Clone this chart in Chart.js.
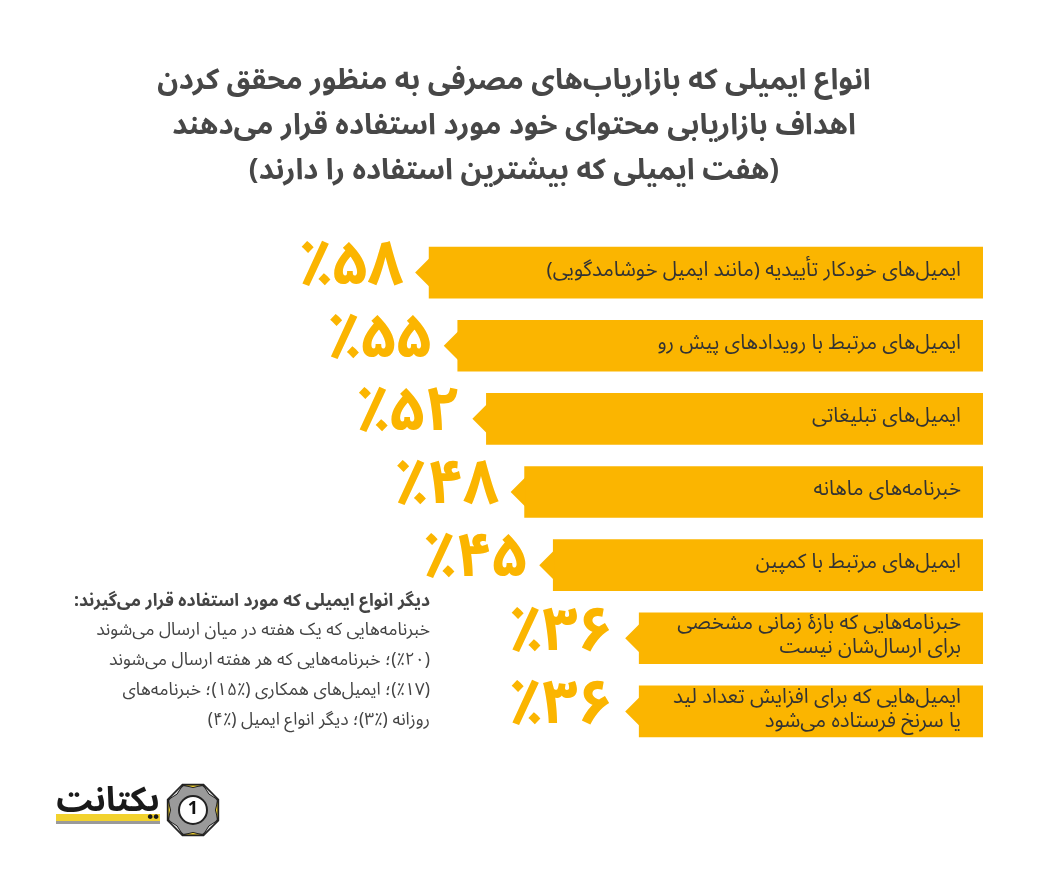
<!DOCTYPE html>
<html>
<head>
<meta charset="utf-8">
<script src="https://cdn.jsdelivr.net/npm/chart.js@4.4.0/dist/chart.umd.min.js"></script>
<style>
  html, body { margin: 0; padding: 0; background: #fff; }
  canvas { display: block; }
</style>
</head>
<body>
<canvas id="emailChart" width="1040" height="880"></canvas>
<script>
// data
const categories = [
    ['ایمیل‌های خودکار تأییدیه (مانند ایمیل خوشامدگویی)'],
    ['ایمیل‌های مرتبط با رویدادهای پیش رو'],
    ['ایمیل‌های تبلیغاتی'],
    ['خبرنامه‌های ماهانه'],
    ['ایمیل‌های مرتبط با کمپین'],
    ['خبرنامه‌هایی که بازهٔ زمانی مشخصی', 'برای ارسال‌شان نیست'],
    ['ایمیل‌هایی که برای افزایش تعداد لید', 'یا سرنخ فرستاده می‌شود']
];
const percents = [58, 55, 52, 48, 45, 36, 36];

const titleLines = [
    'انواع ایمیلی که بازاریاب‌های مصرفی به منظور محقق کردن',
    'اهداف بازاریابی محتوای خود مورد استفاده قرار می‌دهند',
    '(هفت ایمیلی که بیشترین استفاده را دارند)'
];
const noteLines = [
    'دیگر انواع ایمیلی که مورد استفاده قرار می‌گیرند:',
    'خبرنامه‌هایی که یک هفته در میان ارسال می‌شوند',
    '(٪۲۰)؛ خبرنامه‌هایی که هر هفته ارسال می‌شوند',
    '(٪۱۷)؛ ایمیل‌های همکاری (٪۱۵)؛ خبرنامه‌های',
    'روزانه (٪۳)؛ دیگر انواع ایمیل (٪۴)'
];

const YELLOW = '#FBB500';
const FONT = "'Noto Sans Arabic', 'DejaVu Sans', sans-serif";

function faDigits(n) {
    return String(n).replace(/[0-9]/g, d => '۰۱۲۳۴۵۶۷۸۹'[d]);
}

// background, title, footnote, logo
const pagePlugin = {
    id: 'page',
    beforeDraw(chart) {
        const c = chart.ctx;
        c.save();
        c.fillStyle = '#fff';
        c.fillRect(0, 0, chart.width, chart.height);

        c.direction = 'rtl';
        c.textBaseline = 'middle';
        c.fillStyle = '#474747';
        c.textAlign = 'center';
        c.font = 'bold 29px ' + FONT;
        titleLines.forEach((t, i) => c.fillText(t, 514, 85 + i * 45));

        c.textAlign = 'right';
        c.fillStyle = '#444';
        noteLines.forEach((t, i) => {
            c.font = (i === 0 ? 'bold ' : '') + '17.5px ' + FONT;
            c.fillText(t, 430, 603 + i * 29.8);
        });

        // logo: octagon badge
        const cx = 193, cy = 810, r = 27;
        const pts = [];
        for (let k = 0; k < 8; k++) {
            const a = Math.PI / 8 + k * Math.PI / 4;
            pts.push([cx + r * Math.cos(a), cy + r * Math.sin(a)]);
        }
        c.beginPath();
        pts.forEach((p, k) => k ? c.lineTo(p[0], p[1]) : c.moveTo(p[0], p[1]));
        c.closePath();
        c.fillStyle = '#9a9a9a';
        c.fill();
        c.lineWidth = 2.5;
        c.strokeStyle = '#222';
        c.stroke();
        for (let k = 0; k < 8; k++) {
            const p = pts[k], q = pts[(k + 1) % 8];
            c.beginPath();
            c.moveTo(p[0], p[1]);
            c.lineTo(q[0], q[1]);
            c.lineTo(cx + (p[0] + q[0] - 2 * cx) * 0.45, cy + (p[1] + q[1] - 2 * cy) * 0.45);
            c.closePath();
            c.fillStyle = k % 2 ? '#f2d22e' : '#cfcfcf';
            c.fill();
            c.lineWidth = 1;
            c.stroke();
        }
        c.beginPath();
        c.arc(cx, cy, 14, 0, Math.PI * 2);
        c.fillStyle = '#fff';
        c.fill();
        c.lineWidth = 2;
        c.strokeStyle = '#222';
        c.stroke();
        c.direction = 'ltr';
        c.textAlign = 'center';
        c.fillStyle = '#111';
        c.font = 'bold 18px ' + FONT;
        c.fillText('1', cx, cy + 1);

        // logo: wordmark
        c.fillStyle = '#f2d22e';
        c.fillRect(56, 814, 104, 7);
        c.fillStyle = '#9a9a9a';
        c.fillRect(56, 821, 104, 3);
        c.direction = 'rtl';
        c.textAlign = 'right';
        c.fillStyle = '#1a1a1a';
        c.font = 'bold 34px ' + FONT;
        c.fillText('یکتانت', 160, 806);
        c.restore();
    }
};

// notch arrows, big percentages and the text inside each bar
const barLabels = {
    id: 'barLabels',
    afterDatasetsDraw(chart) {
        const c = chart.ctx;
        const meta = chart.getDatasetMeta(0);
        const area = chart.chartArea;
        c.save();
        meta.data.forEach((bar, i) => {
            const x = bar.x, y = bar.y;
            c.fillStyle = YELLOW;
            c.beginPath();
            c.moveTo(x + 1, y - 15);
            c.lineTo(x - 14, y);
            c.lineTo(x + 1, y + 15);
            c.closePath();
            c.fill();

            c.direction = 'ltr';
            c.textAlign = 'right';
            c.textBaseline = 'middle';
            c.font = 'bold 62px ' + FONT;
            c.fillText('٪' + faDigits(percents[i]), x - 26, y + 2);

            const lines = categories[i];
            c.direction = 'rtl';
            c.fillStyle = '#333';
            c.font = '20.5px ' + FONT;
            lines.forEach((t, j) => {
                c.fillText(t, area.right - 22, y + (j - (lines.length - 1) / 2) * 24);
            });
        });
        c.restore();
    }
};

new Chart(document.getElementById('emailChart').getContext('2d'), {
    type: 'bar',
    data: {
        labels: categories,
        datasets: [{
            data: percents,
            backgroundColor: YELLOW,
            borderWidth: 0,
            barThickness: 51
        }]
    },
    options: {
        indexAxis: 'y',
        responsive: false,
        animation: false,
        layout: { padding: { top: 236, bottom: 132, left: 28, right: 57 } },
        plugins: {
            legend: { display: false },
            tooltip: { enabled: false }
        },
        scales: {
            x: { reverse: true, min: 0, max: 100, display: false },
            y: { display: false }
        }
    },
    plugins: [pagePlugin, barLabels]
});
</script>
</body>
</html>
